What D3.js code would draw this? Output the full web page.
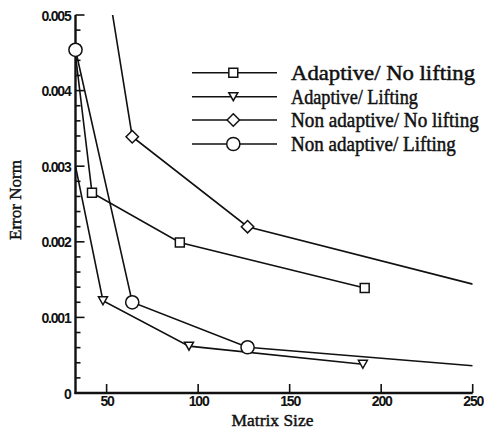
<!DOCTYPE html>
<html>
<head>
<meta charset="utf-8">
<script src="https://cdn.jsdelivr.net/npm/d3@7"></script>
<style>
  html, body { margin: 0; padding: 0; background: #fff; }
  svg { display: block; }
</style>
</head>
<body>
<svg id="chart" width="484" height="429"></svg>
<script>
// Error norm versus matrix size for four discretisation variants
const seriesNames = [
  "Adaptive/ No lifting",
  "Adaptive/ Lifting",
  "Non adaptive/ No lifting",
  "Non adaptive/ Lifting"
];
const seriesSymbols = ["square", "triangle", "diamond", "circle"];

const adaptiveNoLiftX = [33, 42, 90, 191];
const adaptiveNoLiftY = [0.00447, 0.00265, 0.00199, 0.00139];
const adaptiveNoLiftMark = [false, true, true, true];

const adaptiveLiftX = [33, 48, 95, 190];
const adaptiveLiftY = [0.0030, 0.00122, 0.00062, 0.00038];
const adaptiveLiftMark = [false, true, true, true];

const nonAdaptiveNoLiftX = [33, 64, 127, 250];
const nonAdaptiveNoLiftY = [0.00805, 0.00339, 0.00220, 0.00144];
const nonAdaptiveNoLiftMark = [false, true, true, false];

const nonAdaptiveLiftX = [33, 64, 127, 250];
const nonAdaptiveLiftY = [0.00454, 0.00120, 0.000605, 0.00036];
const nonAdaptiveLiftMark = [true, true, true, false];

const xTicks = [50, 100, 150, 200, 250];
const yTicks = [0, 0.001, 0.002, 0.003, 0.004, 0.005];
const yMinorStep = 0.0002;
const xDomain = [33, 250];
const yDomain = [0, 0.005];

const xTitle = "Matrix Size";
const yTitle = "Error Norm";

const series = [
  { x: adaptiveNoLiftX, y: adaptiveNoLiftY, m: adaptiveNoLiftMark },
  { x: adaptiveLiftX, y: adaptiveLiftY, m: adaptiveLiftMark },
  { x: nonAdaptiveNoLiftX, y: nonAdaptiveNoLiftY, m: nonAdaptiveNoLiftMark },
  { x: nonAdaptiveLiftX, y: nonAdaptiveLiftY, m: nonAdaptiveLiftMark }
].map((s, i) => ({
  name: seriesNames[i],
  symbol: seriesSymbols[i],
  points: s.x.map((xv, j) => ({ x: xv, y: s.y[j], mark: s.m[j] }))
}));

const svg = d3.select("#chart");
const ink = "#111";
const serif = "'Liberation Serif', 'Times New Roman', serif";
const sans = "'Liberation Sans', Arial, sans-serif";

const x = d3.scaleLinear().domain(xDomain).range([75.5, 472.7]);
const y = d3.scaleLinear().domain(yDomain).range([393, 15]);

// Squeeze or stretch a text horizontally so it spans the given width
function fitWidth(sel, width) {
  sel.each(function () {
    const t = d3.select(this);
    const w = this.getComputedTextLength();
    const base = t.attr("data-base");
    t.attr("transform", `${base} scale(${width / w},1)`);
  });
}

// Symbol path generators, sized in pixels
function symbolPath(kind) {
  if (kind === "square") return d3.symbol(d3.symbolSquare, 80)();
  if (kind === "triangle") {
    const w = 9, h = 8;
    return `M${-w / 2},${-h / 2}L${w / 2},${-h / 2}L0,${h / 2}Z`;
  }
  if (kind === "diamond") {
    const r = 6.2;
    return `M0,${-r}L${r},0L0,${r}L${-r},0Z`;
  }
  return d3.symbol(d3.symbolCircle, Math.PI * 6.6 * 6.6)();
}

// Clip series lines to the plotting region
svg.append("defs").append("clipPath").attr("id", "plot-clip")
  .append("rect")
  .attr("x", x.range()[0]).attr("y", y.range()[1])
  .attr("width", x.range()[1] - x.range()[0])
  .attr("height", y.range()[0] - y.range()[1]);

// Axes
const yAxis = d3.axisLeft(y).tickValues(yTicks).tickSize(0)
  .tickFormat(d => d === 0 ? "0" : d3.format(".3f")(d));
const xAxis = d3.axisBottom(x).tickValues(xTicks).tickSize(0).tickFormat(d3.format("d"));

const gy = svg.append("g").attr("transform", `translate(${x.range()[0]},0)`).call(yAxis);
gy.select(".domain").remove();
gy.selectAll("text")
  .attr("x", -5).attr("dy", "0.36em")
  .style("font-family", sans)
  .style("font-weight", "bold").style("font-size", "14px")
  .style("letter-spacing", "-1.2px").attr("fill", ink);

const gx = svg.append("g").attr("transform", `translate(0,${y.range()[0]})`).call(xAxis);
gx.select(".domain").remove();
gx.selectAll("text")
  .attr("y", 3).attr("dy", "0.71em")
  .style("font-family", sans)
  .style("font-weight", "bold").style("font-size", "14px")
  .style("letter-spacing", "-1.2px").attr("fill", ink);

// Inward tick marks
const yMinor = d3.range(yDomain[0], yDomain[1] + yMinorStep / 2, yMinorStep);
svg.append("g").selectAll("line").data(yMinor).join("line")
  .attr("x1", x.range()[0]).attr("x2", d => x.range()[0] + (yTicks.some(t => Math.abs(t - d) < 1e-9) ? 9 : 5))
  .attr("y1", d => y(d)).attr("y2", d => y(d))
  .attr("stroke", ink).attr("stroke-width", 1.6);
svg.append("g").selectAll("line").data(xTicks).join("line")
  .attr("x1", d => x(d)).attr("x2", d => x(d))
  .attr("y1", y.range()[0]).attr("y2", y.range()[0] - 9)
  .attr("stroke", ink).attr("stroke-width", 1.6);

// Axis lines
svg.append("line")
  .attr("x1", x.range()[0]).attr("x2", x.range()[0])
  .attr("y1", y.range()[1]).attr("y2", y.range()[0] + 1)
  .attr("stroke", ink).attr("stroke-width", 2.4);
svg.append("line")
  .attr("x1", x.range()[0] - 1).attr("x2", x.range()[1])
  .attr("y1", y.range()[0]).attr("y2", y.range()[0])
  .attr("stroke", ink).attr("stroke-width", 2.4);

// Axis titles
svg.append("text")
  .attr("data-base", "translate(272.5,425.5)")
  .attr("text-anchor", "middle")
  .style("font-family", serif)
  .style("font-size", "17.5px").attr("fill", ink)
  .attr("stroke", ink).attr("stroke-width", 0.45)
  .text(xTitle)
  .call(fitWidth, 82);
svg.append("text")
  .attr("data-base", "translate(21,200) rotate(-90)")
  .attr("text-anchor", "middle")
  .style("font-family", serif)
  .style("font-size", "17.5px").attr("fill", ink)
  .attr("stroke", ink).attr("stroke-width", 0.45)
  .text(yTitle)
  .call(fitWidth, 80);

// Series lines and symbols
const line = d3.line().x(d => x(d.x)).y(d => y(d.y));
const plot = svg.append("g");
plot.append("g").attr("clip-path", "url(#plot-clip)")
  .selectAll("path").data(series).join("path")
  .attr("d", d => line(d.points))
  .attr("fill", "none").attr("stroke", ink).attr("stroke-width", 1.6);

series.forEach(s => {
  plot.append("g").selectAll("path").data(s.points.filter(p => p.mark)).join("path")
    .attr("transform", p => `translate(${x(p.x)},${y(p.y)})`)
    .attr("d", symbolPath(s.symbol))
    .attr("fill", "#fff").attr("stroke", ink).attr("stroke-width", 1.5);
});

// Legend
const legendRowY = [72.7, 96.7, 120, 144];
const legendTextWidth = [184, 127, 188, 165];
const legend = svg.append("g");
series.forEach((s, i) => {
  const row = legend.append("g").attr("transform", `translate(0,${legendRowY[i]})`);
  row.append("line").attr("x1", 192).attr("x2", 277).attr("y1", 0).attr("y2", 0)
    .attr("stroke", ink).attr("stroke-width", 1.6);
  row.append("path").attr("transform", "translate(233.3,0)")
    .attr("d", symbolPath(s.symbol))
    .attr("fill", "#fff").attr("stroke", ink).attr("stroke-width", 1.5);
  row.append("text")
    .attr("data-base", "translate(291,7)")
    .style("font-family", serif)
    .style("font-size", "21px").attr("fill", ink)
    .attr("stroke", ink).attr("stroke-width", 0.5)
    .text(s.name)
    .call(fitWidth, legendTextWidth[i]);
});
</script>
</body>
</html>
